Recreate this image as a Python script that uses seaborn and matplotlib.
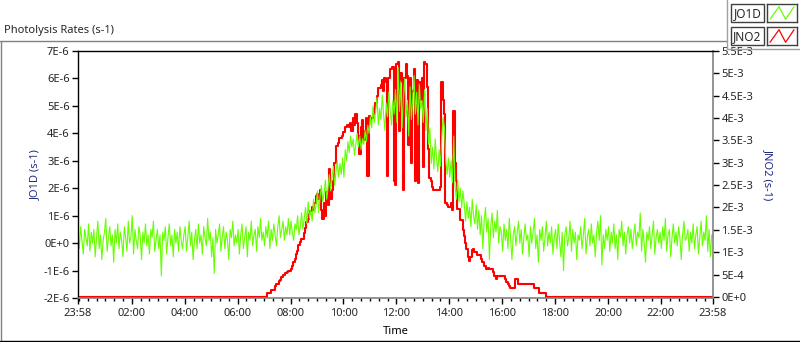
import numpy as np
import pandas as pd
import matplotlib
matplotlib.use('Agg')
import matplotlib.pyplot as plt
from matplotlib.lines import Line2D
from matplotlib.patches import Rectangle
import seaborn as sns

# JO1D, 3 minute samples from 23:58 (units 1E-6 s-1), one row per hour
jo1d = [
    0.3, -0.2, 0.6, 0.1, -0.4, 0.5, 0.2, -0.1, 0.7, -0.3, 0.4, 0.0, 0.5, -0.5, 0.2, 0.8, -0.2, 0.3, -0.6, 0.1,
    0.4, 0.9, -0.3, 0.2, 0.6, -0.1, 0.3, -0.7, 0.5, 0.0, 0.7, -0.2, 0.4, 0.1, -0.5, 0.6, 0.2, -0.3, 0.8, 0.0,
    0.2, 1.0, -0.4, 0.5, 0.1, -0.2, 0.6, 0.3, -0.6, 0.4, 0.0, 0.7, -0.1, 0.3, -0.4, 0.5, 0.2, 0.8, -0.3, 0.1,
    0.5, -0.2, 0.3, -1.2, 0.4, 0.1, 0.6, -0.4, 0.2, 0.7, -0.1, 0.3, -0.5, 0.5, 0.0, 0.4, -0.3, 0.6, 0.1, -0.2,
    0.3, 0.6, -0.3, 0.2, 0.8, -0.1, 0.4, -0.6, 0.1, 0.5, -0.2, 0.7, 0.0, 0.3, -0.4, 0.6, 0.2, -0.1, 0.9, 0.1,
    0.4, -0.5, 0.2, -1.1, 0.5, 0.0, 0.3, 0.7, -0.3, 0.2, 0.6, -0.2, 0.4, 0.1, -0.6, 0.5, 0.2, 0.8, -0.1, 0.3,
    0.0, 0.5, -0.4, 0.3, 0.7, -0.2, 0.2, 0.6, -0.5, 0.4, 0.1, 0.8, -0.1, 0.3, 0.5, -0.3, 0.6, 0.2, 0.9, 0.1,
    0.4, -0.1, 0.6, 0.2, 0.8, -0.2, 0.5, 0.1, 0.7, 0.3, -0.1, 0.6, 1.0, 0.2, 0.5, 0.8, 0.1, 0.6, 0.3, 0.9,
    0.3, 0.8, 0.4, 0.1, 0.7, 0.5, 1.0, 0.3, 0.6, 1.1, 0.5, 0.9, 1.3, 0.7, 1.5, 0.9, 1.2, 0.8, 1.6, 1.1,
    1.4, 1.9, 1.1, 1.7, 2.1, 1.5, 1.8, 2.3, 1.6, 2.0, 2.5, 1.9, 2.4, 2.8, 2.1, 2.6, 3.0, 2.4, 2.9, 2.5,
    3.1, 2.4, 3.4, 3.0, 3.7, 3.3, 3.9, 3.5, 3.8, 3.2, 3.6, 4.0, 3.5, 3.9, 3.4, 3.8, 3.6, 4.1, 3.7, 4.3,
    4.0, 4.6, 4.2, 5.0, 4.4, 4.8, 5.3, 4.3, 4.9, 4.5, 5.4, 4.7, 4.1, 5.1, 4.6, 5.5, 4.8, 4.3, 5.2, 4.7,
    5.6, 4.4, 6.4, 4.8, 5.9, 4.2, 5.4, 6.0, 4.6, 5.2, 3.9, 5.7, 4.5, 5.3, 6.1, 4.7, 5.5, 4.3, 5.8, 4.9,
    5.2, 4.4, 5.6, 4.1, 4.9, 3.6, 4.2, 2.9, 3.5, 2.7, 3.8, 3.1, 2.6, 3.4, 2.8, 3.9, 4.6, 4.2, 3.0, 2.5,
    3.1, 2.4, 3.0, 2.2, 3.9, 2.1, 1.6, 2.3, 1.5, 2.0, 1.3, 1.9, 1.4, 0.8, 1.5, 0.9, 1.3, 0.6, 1.6, 1.0,
    0.7, 1.4, 0.5, 1.2, 0.3, 1.0, -0.2, 0.8, 1.3, 0.4, 0.9, -0.6, 0.6, 1.1, 0.2, 0.8, 0.4, 1.2, 0.0, 0.6,
    0.4, -0.3, 0.7, 0.1, 0.5, -0.2, 0.9, 0.2, -0.6, 0.3, 0.6, -0.1, 0.4, 0.8, 0.0, 0.5, -0.4, 0.2, 0.7, 0.1,
    0.3, -0.5, 0.6, 0.0, 0.4, 0.9, -0.2, 0.3, -0.7, 0.5, 0.1, 0.6, -0.3, 0.2, 0.8, -0.1, 0.4, 0.0, 0.6, -0.4,
    0.2, 0.5, -0.2, 0.7, 0.1, -0.5, 0.4, -1.0, 0.3, 0.6, -0.1, 0.2, 0.8, -0.3, 0.5, 0.0, 0.4, -0.6, 0.3, 0.1,
    0.6, -0.2, 0.3, 0.9, -0.4, 0.2, 0.5, -0.1, 0.7, 0.0, 0.3, -0.5, 0.4, 0.8, 0.1, 1.0, -0.8, 0.3, -0.2, 0.5,
    0.1, 0.6, -0.3, 0.4, 0.0, 0.7, -0.2, 0.3, -0.6, 0.5, 0.2, 0.8, -0.1, 0.4, -0.4, 0.3, 0.6, 0.0, 0.5, -0.2,
    0.3, 0.7, -0.1, 0.4, 0.2, 1.1, -0.3, 0.5, 0.0, -0.7, 0.4, 0.1, 0.6, -0.2, 0.3, 0.8, -0.4, 0.2, 0.5, 0.0,
    0.4, -0.2, 0.6, 0.1, 0.9, -0.3, 0.3, 0.5, -0.5, 0.2, 0.7, 0.0, 0.4, -0.1, 0.6, 0.2, -0.6, 0.3, 0.8, 0.1,
    0.2, 0.5, -0.3, 0.4, 0.0, 0.7, -0.2, 0.3, 0.6, -0.4, 0.2, 0.8, -0.1, 0.4, 0.1, 1.0, -0.3, 0.5, -0.5, 0.3,
    0.2,
]

# JNO2, 3 minute samples from 07:00 (units 1E-3 s-1), zero outside
jno2_start = 7.0
jno2 = [
    0.0, 0.0, 0.09, 0.09, 0.09, 0.16, 0.16, 0.16, 0.24, 0.29, 0.29, 0.36, 0.38, 0.44, 0.48, 0.48, 0.53, 0.56, 0.59, 0.59,
    0.62, 0.70, 0.78, 0.85, 0.95, 1.02, 1.15, 1.22, 1.30, 1.30, 1.42, 1.55, 1.67, 1.75, 1.85, 1.92, 2.00, 1.95, 2.10, 2.25,
    2.30, 2.20, 2.40, 1.95, 1.75, 2.10, 1.80, 2.35, 2.05, 2.85, 2.20, 2.40, 2.60, 3.00, 3.37, 3.37, 3.45, 3.56, 3.56, 3.60,
    3.68, 3.79, 3.79, 3.85, 3.79, 3.90, 3.70, 4.00, 3.85, 4.10, 3.90, 3.60, 3.20, 3.80, 3.95, 3.50, 3.70, 4.00, 2.70, 4.05,
    3.95, 4.00, 4.10, 4.20, 4.34, 4.50, 4.68, 4.68, 4.75, 4.85, 4.60, 4.90, 4.80, 2.70, 4.90, 5.10, 5.10, 5.15, 2.60, 2.50,
    5.20, 5.26, 3.70, 5.00, 4.80, 2.40, 4.90, 5.20, 4.95, 3.40, 4.90, 3.00, 4.60, 5.10, 2.60, 4.85, 2.55, 4.80, 4.40, 4.90,
    2.90, 5.26, 5.20, 4.70, 3.30, 2.65, 2.60, 2.45, 2.40, 2.40, 2.40, 2.40, 2.40, 2.45, 4.80, 4.40, 4.10, 2.10, 2.05, 2.00,
    2.00, 2.10, 1.95, 4.15, 3.00, 2.60, 1.96, 1.96, 1.73, 1.73, 1.50, 1.36, 1.20, 1.07, 0.90, 0.80, 0.90, 1.05, 1.07, 1.00,
    1.00, 0.93, 0.93, 0.93, 0.85, 0.78, 0.70, 0.70, 0.62, 0.65, 0.62, 0.62, 0.62, 0.55, 0.47, 0.40, 0.47, 0.47, 0.47, 0.47,
    0.47, 0.47, 0.40, 0.33, 0.28, 0.24, 0.19, 0.19, 0.19, 0.19, 0.40, 0.40, 0.28, 0.28, 0.28, 0.28, 0.28, 0.28, 0.28, 0.28,
    0.28, 0.28, 0.28, 0.28, 0.19, 0.19, 0.19, 0.19, 0.09, 0.09, 0.09, 0.09, 0.09, 0.0,
]

t_start = -2 / 60          # 23:58 the day before
t_end = 24 - 2 / 60        # 23:58
step = 0.05                # 3 minutes in hours

x_ticks = [t_start, 2, 4, 6, 8, 10, 12, 14, 16, 18, 20, 22, t_end]
x_labels = ['23:58', '02:00', '04:00', '06:00', '08:00', '10:00', '12:00',
            '14:00', '16:00', '18:00', '20:00', '22:00', '23:58']
jo1d_ticks = [-2, -1, 0, 1, 2, 3, 4, 5, 6, 7]
jo1d_labels = ['-2E-6', '-1E-6', '0E+0', '1E-6', '2E-6', '3E-6', '4E-6', '5E-6', '6E-6', '7E-6']
jno2_ticks = [0, 0.5, 1, 1.5, 2, 2.5, 3, 3.5, 4, 4.5, 5, 5.5]
jno2_labels = ['0E+0', '5E-4', '1E-3', '1.5E-3', '2E-3', '2.5E-3', '3E-3', '3.5E-3',
               '4E-3', '4.5E-3', '5E-3', '5.5E-3']

green = '#66FF00'
red = '#FF0000'
navy = '#1F2A80'

df_g = pd.DataFrame({'t': t_start + step * np.arange(len(jo1d)), 'v': jo1d})
t_r = jno2_start + step * np.arange(len(jno2))
df_r = pd.DataFrame({'t': np.concatenate([[t_start], t_r, [t_end]]),
                     'v': np.concatenate([[0.0], jno2, [0.0]])})

sns.set_style('white')
plt.rcParams['font.family'] = ['Noto Sans', 'DejaVu Sans']

fig = plt.figure(figsize=(8, 3.42), dpi=100)
ax = fig.add_axes([78 / 800, 1 - 298 / 342, 635 / 800, 247 / 342])
ax2 = ax.twinx()
ax.set_zorder(ax2.get_zorder() + 1)
ax.patch.set_visible(False)

sns.lineplot(data=df_r, x='t', y='v', ax=ax2, color=red, lw=1.5,
             drawstyle='steps-post', estimator=None, sort=False)
sns.lineplot(data=df_g, x='t', y='v', ax=ax, color=green, lw=0.8,
             estimator=None, sort=False)

ax.set_xlim(t_start, t_end)
ax.set_ylim(-2, 7)
ax2.set_ylim(-0.025, 5.5)

ax.set_xticks(x_ticks)
ax.set_xticklabels(x_labels)
ax.set_xticks(np.arange(0, 24, 1 / 3), minor=True)
ax.set_yticks(jo1d_ticks)
ax.set_yticklabels(jo1d_labels)
ax2.set_yticks(jno2_ticks)
ax2.set_yticklabels(jno2_labels)

ax.tick_params(axis='y', which='major', direction='out', length=4, width=1,
               color='black', labelsize=8, pad=2, left=True)
ax.tick_params(axis='x', which='major', direction='out', length=4, width=1,
               color='black', labelsize=8, pad=3, bottom=True)
ax.tick_params(axis='x', which='minor', direction='out', length=2.5, width=1,
               color='black', bottom=True)
ax2.tick_params(axis='y', direction='out', length=4, width=1, color='black',
                labelsize=8, pad=2, right=True)

for s in ['left', 'top']:
    ax.spines[s].set_color('black')
    ax.spines[s].set_linewidth(1)
for s in ['bottom', 'right']:
    ax.spines[s].set_color('#808080')
    ax.spines[s].set_linewidth(1.2)
for s in ax2.spines.values():
    s.set_visible(False)

ax.set_xlabel('Time', fontsize=8, color='black', labelpad=5)
ax.set_ylabel('JO1D (s-1)', fontsize=8, color=navy, labelpad=1.5)
ax2.set_ylabel('JNO2 (s-1)', fontsize=8, color=navy, rotation=270, labelpad=15)

fig.text(4 / 800, 1 - 31 / 342, 'Photolysis Rates (s-1)', fontsize=8,
         va='center', ha='left')

# outer panel frame
fig.add_artist(Line2D([0, 727 / 800], [1 - 41 / 342] * 2, color='#808080', lw=1))
fig.add_artist(Line2D([0.5 / 800] * 2, [1 - 41 / 342, 0], color='#808080', lw=1))
fig.add_artist(Line2D([0, 1], [1 - 340.5 / 342] * 2, color='black', lw=1))
fig.add_artist(Line2D([727 / 800] * 2, [1, 1 - 49 / 342], color='#A0A0A0', lw=1))
fig.add_artist(Line2D([727 / 800, 1], [1 - 49 / 342] * 2, color='#A0A0A0', lw=1))

# legend panel
for name, col, y0 in [('JO1D', green, 4), ('JNO2', red, 27)]:
    fig.add_artist(Rectangle((731 / 800, 1 - (y0 + 18) / 342), 33 / 800, 18 / 342,
                             fc='white', ec='#404040', lw=1))
    fig.text(747.5 / 800, 1 - (y0 + 9.5) / 342, name, fontsize=8.5,
             ha='center', va='center')
    la = fig.add_axes([767 / 800, 1 - (y0 + 18) / 342, 30 / 800, 18 / 342])
    la.plot([0.1, 0.4, 0.62, 0.9], [0.15, 0.85, 0.15, 0.85], color=col, lw=0.9)
    la.set_xlim(0, 1)
    la.set_ylim(0, 1)
    la.set_xticks([])
    la.set_yticks([])
    for s in la.spines.values():
        s.set_color('#404040')
        s.set_linewidth(1)

fig.savefig('out.png', dpi=100)
